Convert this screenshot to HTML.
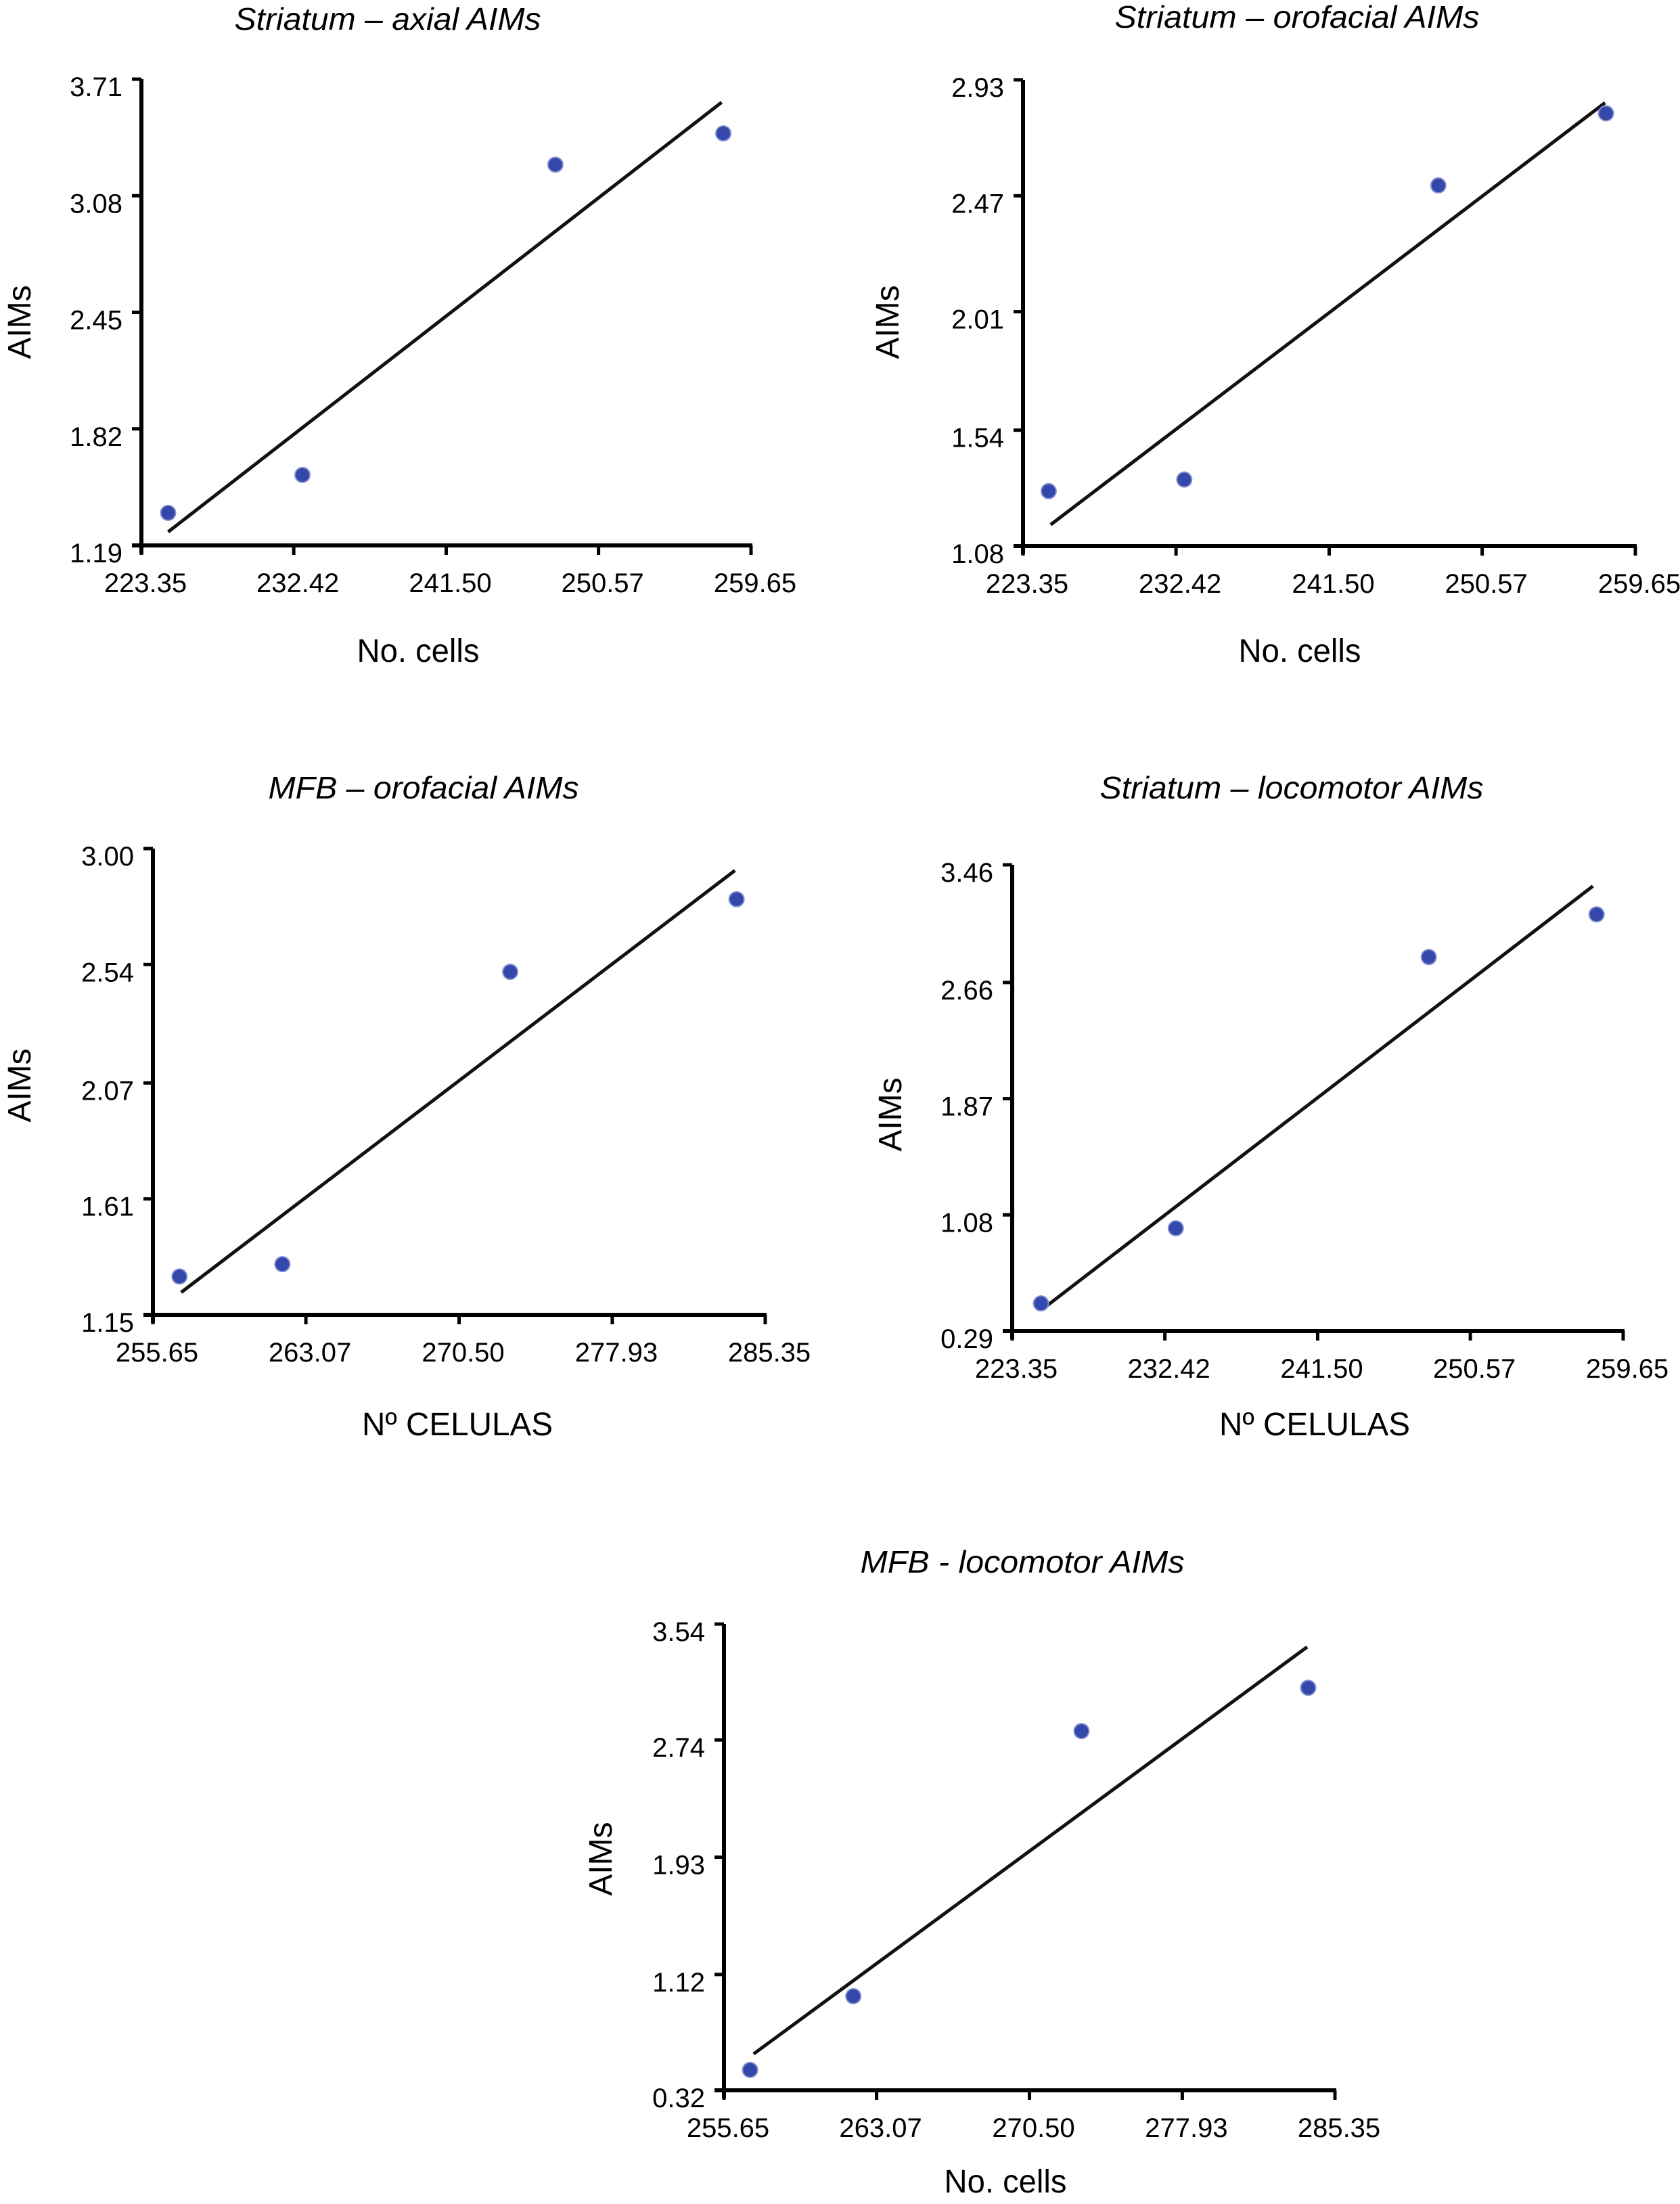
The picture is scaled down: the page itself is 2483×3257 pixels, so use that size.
<!DOCTYPE html>
<html><head><meta charset="utf-8">
<style>
html,body{margin:0;padding:0;background:#fff;}
svg{display:block;}
text{font-family:"Liberation Sans",Arial,sans-serif;fill:#000;}
</style></head>
<body>
<svg id="fig" xmlns="http://www.w3.org/2000/svg" width="2483" height="3257" viewBox="0 0 2483 3257"></svg>
<script>
// ---- Panel data ----
const p1Title = "Striatum – axial AIMs";
const p1XTicks = ["223.35","232.42","241.50","250.57","259.65"];
const p1YTicks = ["1.19","1.82","2.45","3.08","3.71"];
const p1X = [224.94, 232.94, 248.0, 258.0];
const p1Y = [1.366, 1.571, 3.248, 3.417];
const p1FitX = [224.94, 257.9];
const p1FitY = [1.263, 3.585];

const p2Title = "Striatum – orofacial AIMs";
const p2XTicks = ["223.35","232.42","241.50","250.57","259.65"];
const p2YTicks = ["1.08","1.54","2.01","2.47","2.93"];
const p2X = [224.87, 232.91, 247.97, 257.91];
const p2Y = [1.298, 1.344, 2.511, 2.797];
const p2FitX = [224.99, 257.85];
const p2FitY = [1.165, 2.839];

const p3Title = "MFB – orofacial AIMs";
const p3XTicks = ["255.65","263.07","270.50","277.93","285.35"];
const p3YTicks = ["1.15","1.61","2.07","2.54","3.00"];
const p3X = [256.94, 261.93, 272.98, 283.96];
const p3Y = [1.302, 1.351, 2.511, 2.799];
const p3FitX = [257.02, 283.88];
const p3FitY = [1.239, 2.913];

const p4Title = "Striatum – locomotor AIMs";
const p4XTicks = ["223.35","232.42","241.50","250.57","259.65"];
const p4YTicks = ["0.29","1.08","1.87","2.66","3.46"];
const p4X = [225.06, 233.07, 248.10, 258.07];
const p4Y = [0.478, 0.989, 2.833, 3.123];
const p4FitX = [225.31, 257.85];
const p4FitY = [0.453, 3.315];

const p5Title = "MFB - locomotor AIMs";
const p5XTicks = ["255.65","263.07","270.50","277.93","285.35"];
const p5YTicks = ["0.32","1.12","1.93","2.74","3.54"];
const p5X = [256.92, 261.94, 273.03, 284.05];
const p5Y = [0.461, 0.970, 2.801, 3.100];
const p5FitX = [257.09, 284.0];
const p5FitY = [0.571, 3.382];

const NS = "http://www.w3.org/2000/svg";
const svg = document.getElementById("fig");
function mk(tag, attrs, parent){
  const e = document.createElementNS(NS, tag);
  for (const k in attrs) e.setAttribute(k, attrs[k]);
  (parent||svg).appendChild(e);
  return e;
}

function drawPanel(idx, title, xt, yt, xs, ys, fx, fy, L) {
  const g = mk("g", {});
  
  
  const x0 = L.ax, x1 = L.ax + L.w, yb = L.ab, yt0 = L.ab - L.h;
  const xmin = parseFloat(xt[0]), xmax = parseFloat(xt[xt.length-1]);
  const ymin = parseFloat(yt[0]), ymax = parseFloat(yt[yt.length-1]);
  const sx = v => x0 + (v - xmin) / (xmax - xmin) * (x1 - x0);
  const sy = v => yb - (v - ymin) / (ymax - ymin) * (yb - yt0);

  const t = mk("text", {x: L.tx, y: L.ty + 17, "text-anchor": "middle", "font-size": 46, "font-style": "italic", textLength: L.tw, lengthAdjust: "spacingAndGlyphs"}, g);
  t.textContent = title;
  
  

  const ya = mk("line", {x1: x0, y1: yt0, x2: x0, y2: yb + 12, stroke: "#000", "stroke-width": 6}, g);
  
  
  const xa = mk("line", {x1: x0 - 14, y1: yb, x2: x1 + 2, y2: yb, stroke: "#000", "stroke-width": 6}, g);
  
  

  yt.forEach(lbl => {
    const y = sy(parseFloat(lbl));
    const tk = mk("line", {x1: x0 - 14, y1: y, x2: x0, y2: y, stroke: "#000", "stroke-width": 5}, g);
    
    
    const tl = mk("text", {x: x0 - 28, y: y + 25, "text-anchor": "end", "font-size": 40}, g);
    tl.textContent = lbl;
    
    
  });
  xt.forEach(lbl => {
    const x = sx(parseFloat(lbl));
    const tk = mk("line", {x1: x, y1: yb, x2: x, y2: yb + 14, stroke: "#000", "stroke-width": 5}, g);
    
    
    const tl = mk("text", {x: x + 6, y: yb + 69, "text-anchor": "middle", "font-size": 40}, g);
    tl.textContent = lbl;
    
    
  });

  const fl = mk("line", {x1: sx(fx[0]), y1: sy(fy[0]), x2: sx(fx[1]), y2: sy(fy[1]), stroke: "#111", "stroke-width": 5}, g);
  
  

  xs.forEach((xv, i) => {
    const c = mk("circle", {cx: sx(xv), cy: sy(ys[i]), r: 11, fill: "#3447aa", stroke: "#8593d0", "stroke-width": 2}, g);
    
    
  });

  const xl = mk("text", {x: L.xlx, y: L.xly + 17, "text-anchor": "middle", "font-size": 48, textLength: L.xlw, lengthAdjust: "spacingAndGlyphs"}, g);
  xl.textContent = L.xlabel;
  
  
  const yl = mk("text", {x: 0, y: 0, "text-anchor": "middle", "font-size": 48, transform: "translate(" + (L.ylx + 17) + "," + L.yly + ") rotate(-90)"}, g);
  yl.textContent = "AIMs";
  
  
}

drawPanel(1, p1Title, p1XTicks, p1YTicks, p1X, p1Y, p1FitX, p1FitY,
  {ax:209, ab:806, w:901, h:689, tx:573, ty:27, tw:453, xlabel:"No. cells", xlx:618, xly:961, xlw:181, ylx:28, yly:476});
drawPanel(2, p2Title, p2XTicks, p2YTicks, p2X, p2Y, p2FitX, p2FitY,
  {ax:1512, ab:807, w:905, h:689, tx:1917, ty:24, tw:539, xlabel:"No. cells", xlx:1921, xly:961, xlw:181, ylx:1311, yly:476});
drawPanel(3, p3Title, p3XTicks, p3YTicks, p3X, p3Y, p3FitX, p3FitY,
  {ax:226, ab:1943, w:905, h:689, tx:626, ty:1163, tw:459, xlabel:"Nº CELULAS", xlx:676, xly:2104, xlw:282, ylx:28, yly:1604});
drawPanel(4, p4Title, p4XTicks, p4YTicks, p4X, p4Y, p4FitX, p4FitY,
  {ax:1496, ab:1967, w:903, h:689, tx:1909, ty:1163, tw:567, xlabel:"Nº CELULAS", xlx:1943, xly:2104, xlw:282, ylx:1315, yly:1647});
drawPanel(5, p5Title, p5XTicks, p5YTicks, p5X, p5Y, p5FitX, p5FitY,
  {ax:1070, ab:3089, w:903, h:689, tx:1511, ty:2307, tw:479, xlabel:"No. cells", xlx:1486, xly:3223, xlw:181, ylx:887, yly:2747});
</script>
</body></html>
